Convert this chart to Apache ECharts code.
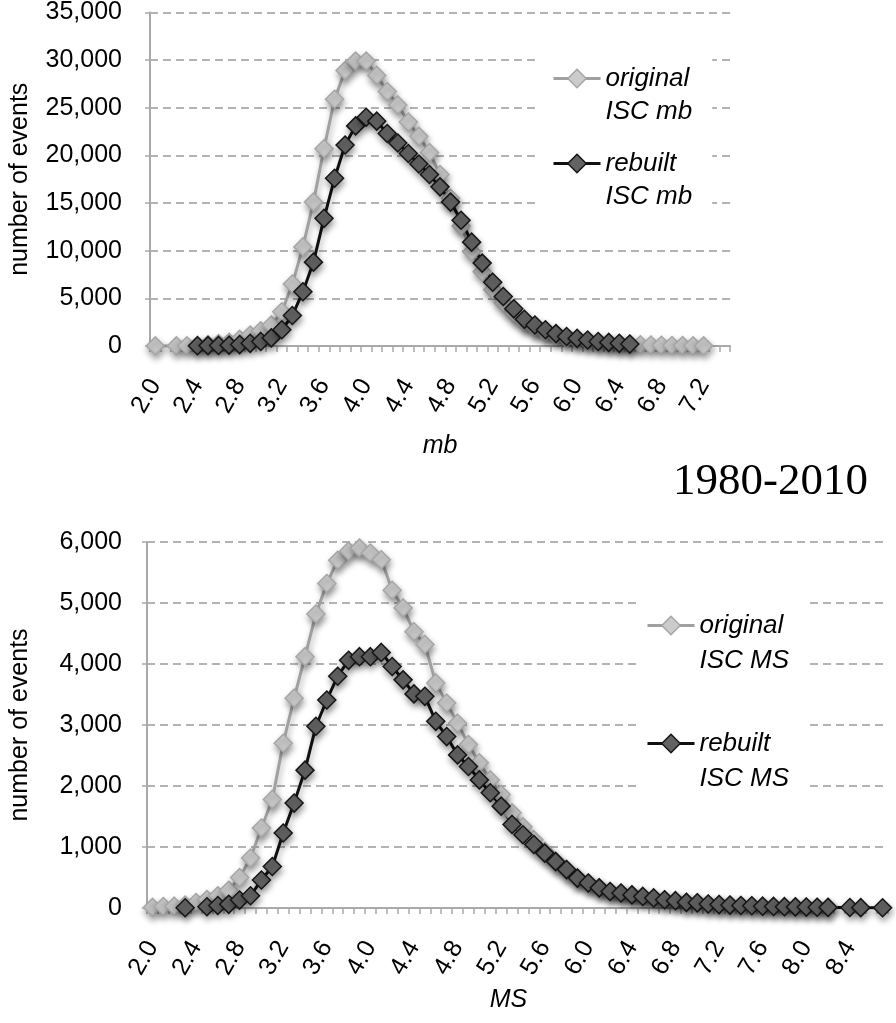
<!DOCTYPE html>
<html><head><meta charset="utf-8">
<script src="https://cdn.jsdelivr.net/npm/echarts@6/dist/echarts.min.js"></script>
<style>html,body{margin:0;padding:0;background:#fff}#c{width:896px;height:1023px}</style>
</head><body><div id="c"></div>
<script>
// ---------- data ----------
const mbCategories = ['2.0','2.1','2.2','2.3','2.4','2.5','2.6','2.7','2.8','2.9',
  '3.0','3.1','3.2','3.3','3.4','3.5','3.6','3.7','3.8','3.9',
  '4.0','4.1','4.2','4.3','4.4','4.5','4.6','4.7','4.8','4.9',
  '5.0','5.1','5.2','5.3','5.4','5.5','5.6','5.7','5.8','5.9',
  '6.0','6.1','6.2','6.3','6.4','6.5','6.6','6.7','6.8','6.9',
  '7.0','7.1','7.2','7.3','7.4'];
const mbOriginal = [10, null, 10, 30, 80, 150, 250, 400, 700, 1150,
  1600, 2200, 3600, 6500, 10400, 15100, 20700, 25900, 28900, 29900,
  29900, 28400, 26700, 25300, 23500, 22000, 20300, 18000, 15500, 12600,
  9900, 7800, 5900, 4500, 3400, 2500, 1900, 1400, 1050, 800,
  620, 480, 370, 290, 220, 170, 130, 100, 75, 55,
  40, 25, 15, null, null];
const mbRebuilt = [null, null, null, null, 20, 40, 60, 90, 150, 280,
  480, 850, 1700, 3200, 5700, 8800, 13400, 17600, 21100, 23100,
  24000, 23600, 22300, 21300, 20200, 19100, 18000, 16700, 15100, 13200,
  10900, 8700, 6700, 5200, 3900, 2800, 2200, 1700, 1300, 1000,
  800, 630, 470, 380, 280, 200, null, null, null, null,
  null, null, null, null, null];

const msCategories = ['2.0','2.1','2.2','2.3','2.4','2.5','2.6','2.7','2.8','2.9',
  '3.0','3.1','3.2','3.3','3.4','3.5','3.6','3.7','3.8','3.9',
  '4.0','4.1','4.2','4.3','4.4','4.5','4.6','4.7','4.8','4.9',
  '5.0','5.1','5.2','5.3','5.4','5.5','5.6','5.7','5.8','5.9',
  '6.0','6.1','6.2','6.3','6.4','6.5','6.6','6.7','6.8','6.9',
  '7.0','7.1','7.2','7.3','7.4','7.5','7.6','7.7','7.8','7.9',
  '8.0','8.1','8.2','8.3','8.4','8.5','8.6','8.7'];
const msOriginal = [10, 25, 30, 50, 90, 140, 200, 290, 500, 820,
  1310, 1780, 2700, 3440, 4120, 4820, 5320, 5700, 5850, 5900,
  5820, 5710, 5210, 4920, 4530, 4320, 3690, 3360, 3030, 2680,
  2380, 2100, 1860, 1560, 1330, 1120, 930, 770, 630, 490,
  410, 330, 270, 245, 215, 190, 165, 135, 120, 92,
  85, 66, 56, 48, 42, 36, 30, 26, 22, 18,
  15, 12, 10, null, null, null, null, null];
const msRebuilt = [null, null, null, 5, null, 20, 40, 60, 130, 200,
  460, 680, 1230, 1720, 2260, 2980, 3410, 3800, 4060, 4120,
  4120, 4190, 3960, 3740, 3510, 3470, 3060, 2810, 2510, 2320,
  2100, 1890, 1670, 1370, 1200, 1040, 900, 760, 630, 490,
  410, 330, 270, 245, 215, 190, 165, 135, 120, 92,
  85, 66, 56, 48, 42, 36, 30, 26, 22, 18,
  15, 12, 10, null, 8, 6, null, 4];

const legendLabels = {
  origMb: ['original', 'ISC mb'], rebMb: ['rebuilt', 'ISC mb'],
  origMs: ['original', 'ISC MS'], rebMs: ['rebuilt', 'ISC MS']
};
const periodTitle = '1980-2010';

// ---------- styles ----------
const FONT = '"Liberation Sans", Arial, Helvetica, sans-serif';
const lightLine = '#a0a0a0', lightFill = '#cbcbcb', lightBorder = '#a6a6a6';
const darkLine = '#111111', darkFill = '#636363', darkBorder = '#161616';
const shadow = {shadowColor: 'rgba(0,0,0,0.35)', shadowBlur: 6, shadowOffsetX: 1, shadowOffsetY: 4};

function lightSeries(name, data, idx) {
  return {name, type: 'line', data, xAxisIndex: idx, yAxisIndex: idx, connectNulls: true,
    symbol: 'diamond', symbolSize: 18, showAllSymbol: true, animation: false,
    lineStyle: Object.assign({color: lightLine, width: 3}, shadow),
    itemStyle: Object.assign({color: lightFill, borderColor: lightBorder, borderWidth: 1.5}, shadow)};
}
function darkSeries(name, data, idx) {
  return {name, type: 'line', data, xAxisIndex: idx, yAxisIndex: idx, connectNulls: true,
    symbol: 'diamond', symbolSize: 18, showAllSymbol: true, animation: false,
    lineStyle: Object.assign({color: darkLine, width: 3}, shadow),
    itemStyle: Object.assign({color: darkFill, borderColor: darkBorder, borderWidth: 1.5}, shadow)};
}
function xAxisCfg(cats, idx, name, nameGap, namePad) {
  return {type: 'category', gridIndex: idx, data: cats, boundaryGap: true,
    name, nameLocation: 'middle', nameGap,
    nameTextStyle: {fontFamily: FONT, fontSize: 25, fontStyle: 'italic', color: '#000', padding: namePad},
    axisLine: {lineStyle: {color: '#a9a9a9', width: 2}},
    axisTick: {show: true, interval: 0, length: 6, lineStyle: {color: '#a9a9a9', width: 1.5}},
    axisLabel: {interval: 3, rotate: 60, margin: 35, fontFamily: FONT, fontSize: 25, color: '#000'},
    splitLine: {show: false}};
}
function yAxisCfg(idx, max, interval, nameGap, margin) {
  return {type: 'value', gridIndex: idx, min: 0, max, interval,
    name: 'number of events', nameLocation: 'middle', nameRotate: 90, nameGap,
    nameTextStyle: {fontFamily: FONT, fontSize: 25, color: '#000'},
    axisLine: {show: true, lineStyle: {color: '#a9a9a9', width: 2}},
    axisTick: {show: true, length: 5, lineStyle: {color: '#a9a9a9', width: 1.5}},
    axisLabel: {margin, fontFamily: FONT, fontSize: 25, color: '#000',
      formatter: v => v.toLocaleString('en-US')},
    splitLine: {show: true, lineStyle: {color: '#9a9a9a', width: 1.5, type: [8, 5]}}};
}
function legendCfg(names, left, top, lh, gap, pad) {
  return {orient: 'vertical', left, top, itemWidth: 47, itemHeight: 23, itemGap: gap,
    padding: pad, backgroundColor: '#fff',
    data: [
      {name: names[0], itemStyle: {color: lightFill, borderColor: lightBorder, borderWidth: 1.5}, lineStyle: {color: lightLine, width: 3}},
      {name: names[1], itemStyle: {color: darkFill, borderColor: darkBorder, borderWidth: 1.5}, lineStyle: {color: darkLine, width: 3}}
    ],
    // blank first line so that the first text line sits level with the icon
    formatter: n => '\n' + legendLabels[n].join('\n'),
    textStyle: {fontFamily: FONT, fontSize: 26, fontStyle: 'italic', color: '#000', lineHeight: lh}};
}

const chart = echarts.init(document.getElementById('c'), null, {renderer: 'canvas'});
chart.setOption({
  animation: false,
  backgroundColor: '#fff',
  title: {text: periodTitle, left: 668, top: 455,
    textStyle: {fontFamily: '"Liberation Serif", "Times New Roman", serif', fontSize: 45, fontWeight: 'normal', color: '#000'}},
  grid: [
    {left: 147, top: 12, width: 583, height: 334, containLabel: false},
    {left: 143, top: 542, width: 745, height: 366, containLabel: false}
  ],
  xAxis: [xAxisCfg(mbCategories, 0, 'mb', 88, [0, 0, 0, 0]), xAxisCfg(msCategories, 1, 'MS', 80, [0, 18, 0, 0])],
  yAxis: [yAxisCfg(0, 35000, 5000, 117, 28), yAxisCfg(1, 6000, 1000, 114, 25)],
  legend: [
    legendCfg(['origMb', 'rebMb'], 537, 29, 33, -14, [0, 20, 0, 15]),
    legendCfg(['origMs', 'rebMs'], 638, 573, 35, 13, [0, 16, 0, 8])
  ],
  series: [
    lightSeries('origMb', mbOriginal, 0), darkSeries('rebMb', mbRebuilt, 0),
    lightSeries('origMs', msOriginal, 1), darkSeries('rebMs', msRebuilt, 1)
  ]
});
</script></body></html>
